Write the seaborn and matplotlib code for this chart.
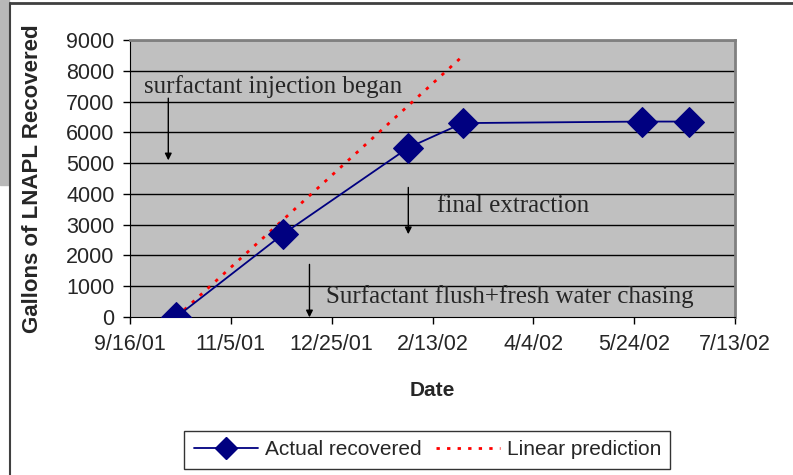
import pandas as pd
import matplotlib.pyplot as plt
import matplotlib.dates as mdates
from matplotlib.ticker import FuncFormatter, MultipleLocator
import seaborn as sns

# data
actual_dates = ['2001-10-09', '2001-12-01', '2002-02-01', '2002-02-28', '2002-05-28', '2002-06-20']
actual_gal = [0, 2700, 5500, 6300, 6350, 6350]
pred_dates = ['2001-10-09', '2002-02-28']
pred_gal = [0, 8480]
tick_dates = ['2001-09-16', '2001-11-05', '2001-12-25', '2002-02-13', '2002-04-04', '2002-05-24', '2002-07-13']

df = pd.DataFrame({'date': pd.to_datetime(actual_dates), 'gal': actual_gal})
pred = pd.DataFrame({'date': pd.to_datetime(pred_dates), 'gal': pred_gal})
ticks = pd.to_datetime(tick_dates)

sns.set_style('white')
plt.rcParams['font.family'] = ['Liberation Sans', 'DejaVu Sans']

fig = plt.figure(figsize=(7.93, 4.75), dpi=100)
ax = fig.add_axes([0.1639, 0.3326, 0.763, 0.5832])
ax.set_facecolor('#c0c0c0')

for v in range(1000, 10000, 1000):
    ax.axhline(v, color='black', lw=1, zorder=1)

sns.lineplot(data=pred, x='date', y='gal', ax=ax, color='red', lw=2,
             linestyle=(0, (1.2, 2.6)), zorder=2)
sns.lineplot(data=df, x='date', y='gal', ax=ax, color='#000080', lw=1.3,
             marker='D', markersize=15, markeredgecolor='#000080', zorder=3)

ax.set_xlim(ticks[0], ticks[-1])
ax.set_ylim(0, 9000)
ax.set_xticks(ticks)
ax.xaxis.set_major_formatter(FuncFormatter(
    lambda x, p: '{d.month}/{d.day}/{y}'.format(d=mdates.num2date(x), y=mdates.num2date(x).strftime('%y'))))
ax.yaxis.set_major_locator(MultipleLocator(1000))
ax.tick_params(axis='both', labelsize=15.5, direction='out', length=5, width=1, color='black', bottom=True, left=True)
ax.tick_params(axis='x', pad=7)
ax.tick_params(axis='y', pad=6)
ax.set_xlabel('Date', fontsize=15, fontweight='bold', labelpad=19)
ax.set_ylabel('Gallons of LNAPL Recovered', fontsize=16, fontweight='bold', labelpad=17)

for side in ['left', 'bottom']:
    ax.spines[side].set_color('black')
for side in ['top', 'right']:
    ax.spines[side].set_color('#808080')
    ax.spines[side].set_linewidth(2)

serif = dict(family='Liberation Serif', fontsize=18)
d = mdates.date2num
ax.text(d(pd.Timestamp('2001-09-23')), 7500, 'surfactant injection began', va='center', **serif)
ax.annotate('', xy=(d(pd.Timestamp('2001-10-05')), 5000), xytext=(d(pd.Timestamp('2001-10-05')), 7200),
            arrowprops=dict(arrowstyle='-|>', color='black', lw=1, mutation_scale=10))
ax.text(d(pd.Timestamp('2002-02-15')), 3600, 'final extraction', va='center', **serif)
ax.annotate('', xy=(d(pd.Timestamp('2002-02-01')), 2600), xytext=(d(pd.Timestamp('2002-02-01')), 4300),
            arrowprops=dict(arrowstyle='-|>', color='black', lw=1, mutation_scale=10))
ax.text(d(pd.Timestamp('2001-12-22')), 680, 'Surfactant flush+fresh water chasing', va='center', **serif)
ax.annotate('', xy=(d(pd.Timestamp('2001-12-14')), -100), xytext=(d(pd.Timestamp('2001-12-14')), 1800),
            arrowprops=dict(arrowstyle='-|>', color='black', lw=1, mutation_scale=10), annotation_clip=False)

# legend
h1 = plt.Line2D([], [], color='#000080', lw=1.3, marker='D', markersize=11)
h2 = plt.Line2D([], [], color='red', lw=2, linestyle=(0, (1.2, 2.6)))
leg = fig.legend([h1, h2], ['Actual recovered', 'Linear prediction'], loc='center',
                 bbox_to_anchor=(0.539, 0.053), ncol=2, fontsize=15, frameon=True,
                 fancybox=False, edgecolor='black', handlelength=3.1, columnspacing=0.7,
                 handletextpad=0.3, borderpad=0.45)
leg.get_frame().set_linewidth(1)

# outer chart frame
fig.add_artist(plt.Rectangle((0, 0.61), 0.011, 0.39, transform=fig.transFigure, color='#b8b8b8', zorder=0))
fig.add_artist(plt.Line2D([0.012, 1], [0.994, 0.994], transform=fig.transFigure, color='#404040', lw=2))
fig.add_artist(plt.Line2D([0.012, 0.012], [0, 0.994], transform=fig.transFigure, color='#404040', lw=1.5))

fig.savefig('out.png', dpi=100)
